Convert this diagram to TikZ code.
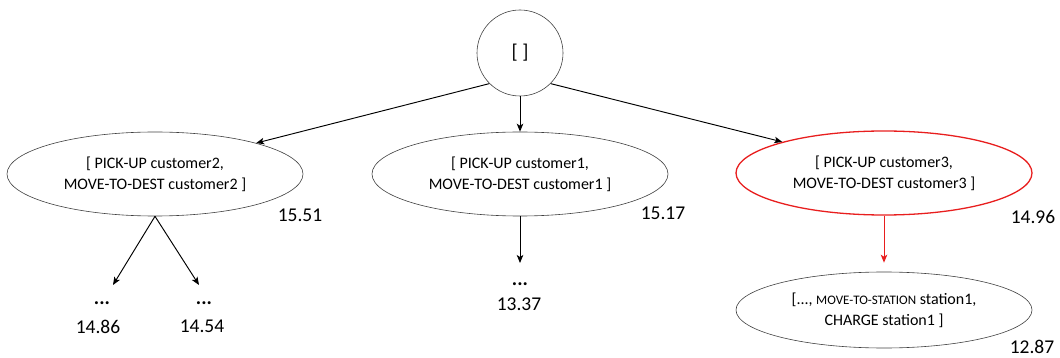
\documentclass[tikz,border=0pt]{standalone}
\usepackage{fontspec}
\setmainfont{Carlito}
\usetikzlibrary{arrows.meta,shapes.geometric}
\definecolor{hl}{RGB}{232,30,30}
\begin{document}
\begin{tikzpicture}[x=1pt,y=-1pt,
  state/.style={ellipse, draw=black!75, line width=0.6pt, minimum width=296pt,
    minimum height=84pt, inner sep=0pt, align=center,
    font=\fontsize{16}{21}\selectfont},
  chosen/.style={state, draw=hl, line width=1.3pt},
  cost/.style={inner sep=0pt, font=\fontsize{19.5}{22}\selectfont},
  more/.style={inner sep=0pt, anchor=base, font=\bfseries\fontsize{20}{22}\selectfont},
  link/.style={-{Stealth[length=8pt,width=6.5pt,inset=2pt]}, line width=0.95pt, black},
  redlink/.style={-{Stealth[length=8pt,width=6.5pt,inset=2pt]}, line width=0.9pt, hl}
]
\useasboundingbox (0,0) rectangle (1060,358);

% root of the search tree
\node[circle, draw=black!75, line width=0.6pt, minimum size=86pt, inner sep=0pt,
      font=\fontsize{20}{22}\selectfont] (root) at (520,53) {[ ]};

% first level of plans
\node[state] (left) at (155,174) {[ PICK-UP customer2,\\ MOVE-TO-DEST customer2 ]};
\node[state] (mid) at (520,174) {[ PICK-UP customer1,\\ MOVE-TO-DEST customer1 ]};
\node[chosen] (right) at (884,173) {[ PICK-UP customer3,\\ MOVE-TO-DEST customer3 ]};

% expanded plan below the chosen one
\node[state, minimum height=76pt] (bot) at (884,310)
  {[..., {\fontsize{13}{21}\selectfont MOVE-TO-STATION} station1,\\ CHARGE station1 ]};

% costs
\node[cost] (cl) at (300,215) {15.51};
\node[cost] (cm) at (663,213) {15.17};
\node[cost] (cr) at (1033,217) {14.96};
\node[cost] (cb) at (1032,347) {12.87};

% elided subtrees
\node[more] (dA) at (102,304.5) {...};
\node[more] (dB) at (204,304.5) {...};
\node[more] (dM) at (520,285.5) {...};
\node[cost] (cA) at (98,327) {14.86};
\node[cost] (cB) at (202,326) {14.54};
\node[cost] (cM) at (519,304) {13.37};

\coordinate (tA) at (113,285);
\coordinate (tB) at (199,285);
\coordinate (tM) at (520,263);

% connectors
\draw[link] (root.225) -- (left.17);
\draw[link] (root) -- (mid);
\draw[link] (root.315) -- (right.163);
\draw[link] (left.south) -- (tA);
\draw[link] (left.south) -- (tB);
\draw[link] (mid.south) -- (tM);
\draw[redlink, shorten >=9pt] (right.south) -- (bot.north);
\end{tikzpicture}
\end{document}
